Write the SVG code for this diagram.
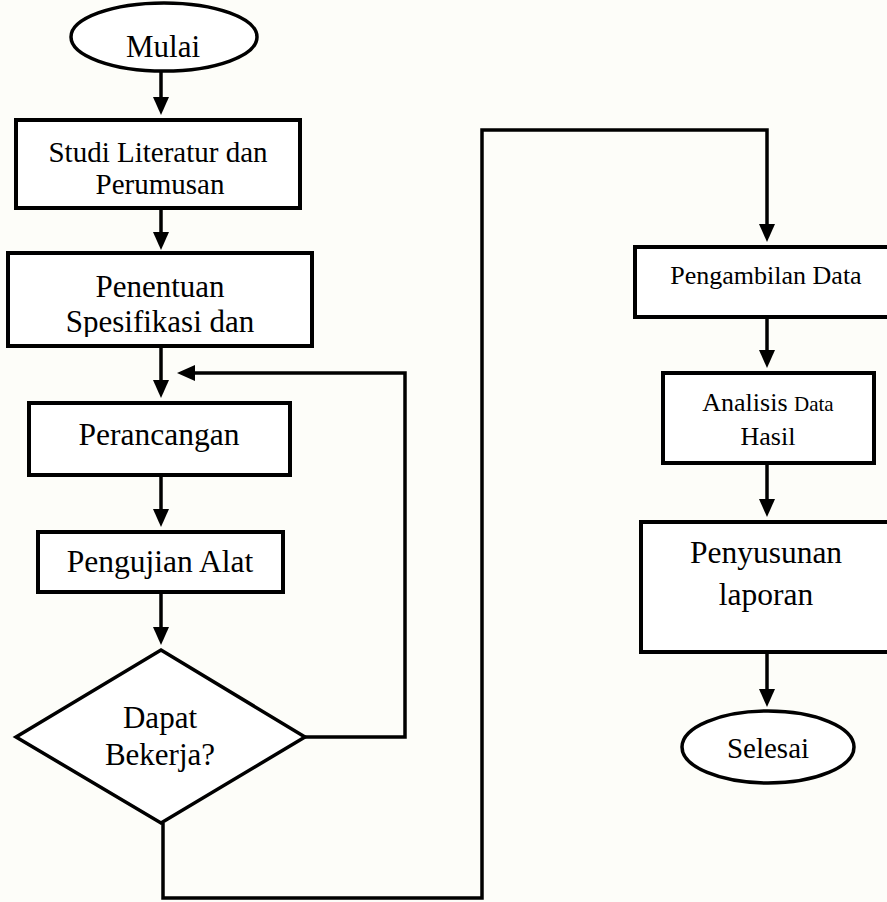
<svg xmlns="http://www.w3.org/2000/svg" width="887" height="902" viewBox="0 0 887 902">
<defs>
<style>
.box{fill:#ffffff;stroke:#000;stroke-width:4}
.term{fill:#ffffff;stroke:#000;stroke-width:3.5}
.con{fill:none;stroke:#000;stroke-width:3.5;marker-end:url(#ah)}
.plain{fill:none;stroke:#000;stroke-width:3.5}
text{font-family:"Liberation Serif","Times New Roman",serif;fill:#000;text-anchor:middle}
</style>
<marker id="ah" viewBox="0 0 18 16" refX="4" refY="8" markerWidth="18" markerHeight="16" markerUnits="userSpaceOnUse" orient="auto">
<path d="M0,0 L18,8 L0,16 z" fill="#000"/>
</marker>
<clipPath id="clipPen"><rect x="10" y="255" width="300" height="82"/></clipPath>
</defs>
<rect x="0" y="0" width="887" height="902" fill="#fdfdf9"/>

<g id="connectors">
<path class="con" d="M161,72 V101"/>
<path class="con" d="M161,210 V236"/>
<path class="con" d="M161,348 V384"/>
<path class="con" d="M305,737 H405 V373 H191"/>
<path class="con" d="M161,477 V513"/>
<path class="con" d="M161,594 V631"/>
<path class="con" d="M163,823 V898 H482 V130 H767 V228"/>
<path class="con" d="M767,319 V354"/>
<path class="con" d="M767,465 V503"/>
<path class="con" d="M767,654 V693"/>
</g>

<g id="mulai">
<ellipse class="term" cx="164" cy="37" rx="93" ry="34"/>
<text x="163" y="57" font-size="31">Mulai</text>
</g>

<g id="studi">
<rect class="box" x="16" y="120" width="284" height="88"/>
<text x="158" y="162" font-size="29">Studi Literatur dan</text>
<text x="160" y="194" font-size="29">Perumusan</text>
</g>

<g id="penentuan">
<rect class="box" x="8" y="253" width="304" height="93"/>
<g clip-path="url(#clipPen)">
<text x="160" y="297" font-size="31">Penentuan</text>
<text x="160" y="332" font-size="31">Spesifikasi dan</text>
</g>
</g>

<g id="perancangan">
<rect class="box" x="29" y="403" width="261" height="72"/>
<text x="159" y="445" font-size="31.5">Perancangan</text>
</g>

<g id="pengujian">
<rect class="box" x="38" y="532" width="245" height="60"/>
<text x="160" y="572" font-size="31.5">Pengujian Alat</text>
</g>

<g id="keputusan">
<polygon class="term" points="161,650 305,737 161,823 16,737"/>
<text x="160" y="728" font-size="31">Dapat</text>
<text x="160" y="765" font-size="31">Bekerja?</text>
</g>

<g id="pengambilan">
<rect class="box" x="635" y="247" width="262" height="70"/>
<text x="766" y="284" font-size="26">Pengambilan Data</text>
</g>

<g id="analisis">
<rect class="box" x="663" y="373" width="211" height="90"/>
<text x="768" y="411" font-size="26">Analisis <tspan font-size="21">Data</tspan></text>
<text x="768" y="445" font-size="26">Hasil</text>
</g>

<g id="penyusunan">
<rect class="box" x="641" y="522" width="262" height="130"/>
<text x="766" y="563" font-size="31.5">Penyusunan</text>
<text x="766" y="605" font-size="31.5">laporan</text>
</g>

<g id="selesai">
<ellipse class="term" cx="768" cy="747" rx="86" ry="36"/>
<text x="768" y="758" font-size="29">Selesai</text>
</g>
</svg>
